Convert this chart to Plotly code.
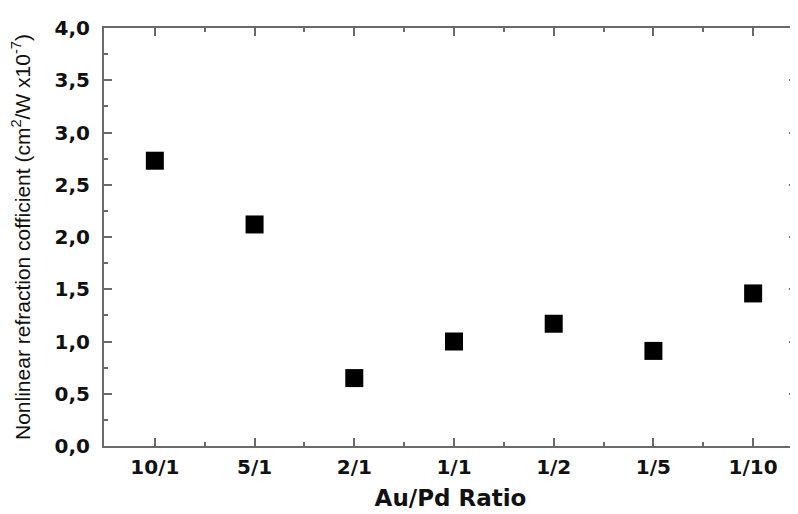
import plotly.graph_objects as go

ratios = ["10/1", "5/1", "2/1", "1/1", "1/2", "1/5", "1/10"]
coefficient = [2.73, 2.12, 0.65, 1.00, 1.17, 0.91, 1.46]
y_ticks = [0.0, 0.5, 1.0, 1.5, 2.0, 2.5, 3.0, 3.5, 4.0]
y_tick_labels = ["0,0", "0,5", "1,0", "1,5", "2,0", "2,5", "3,0", "3,5", "4,0"]

xpos = list(range(len(ratios)))

fig = go.Figure(
    go.Scatter(
        x=xpos,
        y=coefficient,
        mode="markers",
        marker=dict(symbol="square", size=18, color="black"),
        showlegend=False,
    )
)

axis_common = dict(
    showline=True,
    linecolor="#6a6a6a",
    linewidth=2,
    mirror="ticks",
    ticks="inside",
    ticklen=8,
    tickwidth=1.5,
    tickcolor="#6a6a6a",
    showgrid=False,
    zeroline=False,
    tickfont=dict(family="DejaVu Sans", size=20, color="#111", weight="bold"),
)

fig.update_xaxes(
    **axis_common,
    range=[-0.51, 6.44],
    tickvals=xpos,
    ticktext=ratios,
    minor=dict(ticks="inside", ticklen=4, tickcolor="#6a6a6a", tickwidth=1.5, dtick=0.5, tick0=0.5),
    ticklabelstandoff=2,
    title=dict(text="<b>Au/Pd Ratio</b>", font=dict(family="DejaVu Sans", size=23, color="#111"), standoff=12),
)

fig.update_yaxes(
    **axis_common,
    range=[0, 4.0],
    tickvals=y_ticks,
    ticktext=y_tick_labels,
    minor=dict(ticks="inside", ticklen=4, tickcolor="#6a6a6a", tickwidth=1.5, dtick=0.25),
    ticklabelstandoff=8,
    title=dict(
        text="Nonlinear refraction cofficient (cm<sup>2</sup>/W x10<sup>-7</sup>)",
        font=dict(family="Liberation Sans", size=21, color="#111"),
        standoff=24,
    ),
)

fig.update_layout(
    width=798,
    height=514,
    margin=dict(l=96, r=9, t=20, b=76, autoexpand=False),
    paper_bgcolor="white",
    plot_bgcolor="white",
)

fig.write_html("out.html")
